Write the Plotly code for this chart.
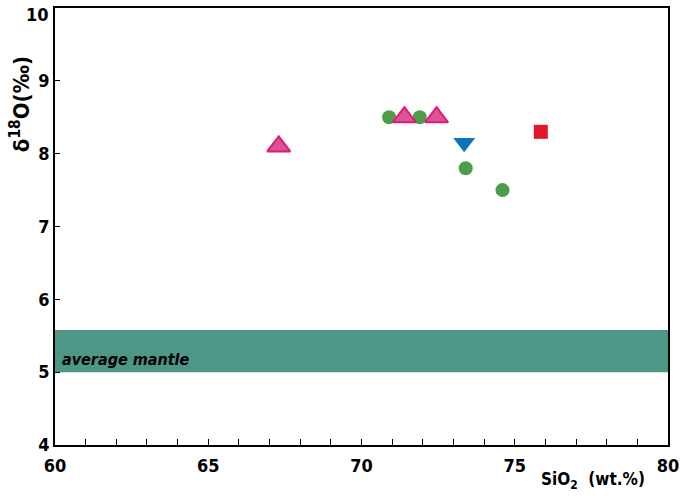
import plotly.graph_objects as go

# Data
circle_x = [70.9, 71.9, 73.4, 74.6]
circle_y = [8.5, 8.5, 7.8, 7.5]
tri_x = [67.3, 71.4, 72.45]
tri_y = [8.1, 8.5, 8.5]
invtri_x = [73.35]
invtri_y = [8.15]
square_x = [75.85]
square_y = [8.3]
mantle_band = [5.0, 5.58]
x_ticks = [60, 65, 70, 75, 80]
y_ticks = [4, 5, 6, 7, 8, 9]
y_top_label = 10

FONT = "DejaVu Sans Condensed, Liberation Sans, Arial, sans-serif"

fig = go.Figure()

fig.add_shape(type="rect", xref="x", yref="y", x0=60, x1=80,
              y0=mantle_band[0], y1=mantle_band[1],
              fillcolor="#4e9786", line=dict(width=0), layer="below")

fig.add_trace(go.Scatter(x=circle_x, y=circle_y, mode="markers",
                         marker=dict(symbol="circle", size=14, color="#4c9c48",
                                     line=dict(width=0))))
fig.add_trace(go.Scatter(x=tri_x, y=tri_y, mode="markers",
                         marker=dict(symbol="triangle-up", size=20, color="#d85596",
                                     line=dict(width=2, color="#e2187a"))))
fig.add_trace(go.Scatter(x=invtri_x, y=invtri_y, mode="markers",
                         marker=dict(symbol="triangle-down", size=19, color="#0b74bb",
                                     line=dict(width=0))))
fig.add_trace(go.Scatter(x=square_x, y=square_y, mode="markers",
                         marker=dict(symbol="square", size=14, color="#e3152a",
                                     line=dict(width=0))))

fig.add_annotation(x=60.15, y=5.02, xref="x", yref="y", text="<b><i>average mantle</i></b>",
                   showarrow=False, xanchor="left", yanchor="bottom",
                   font=dict(family=FONT, size=16, color="black"))

# top "10" label (would be clipped as a regular tick label)
fig.add_annotation(x=0, y=y_top_label, xref="paper", yref="y",
                   text=f"<b>{y_top_label}</b>", showarrow=False,
                   xanchor="right", yanchor="middle", xshift=-4, yshift=-6,
                   font=dict(family=FONT, size=18, color="black"))

fig.add_annotation(x=0.877, y=-0.082, xref="paper", yref="paper",
                   text="<b>SiO<sub>2</sub>  (wt.%)</b>", showarrow=False,
                   xanchor="center", yanchor="middle",
                   font=dict(family=FONT, size=17, color="black"))

fig.add_annotation(x=-0.057, y=0.78, xref="paper", yref="paper",
                   text="<b>δ<sup>18</sup>O(‰)</b>", showarrow=False, textangle=-90,
                   xanchor="center", yanchor="middle",
                   font=dict(family=FONT, size=22, color="black"))

fig.update_xaxes(range=[60, 80], tickvals=x_ticks,
                 ticktext=[f"<b>{v}</b>" for v in x_ticks],
                 ticks="inside", ticklen=6, tickcolor="black", tickwidth=1,
                 minor=dict(dtick=1, ticks="inside", ticklen=6, tickcolor="black"),
                 showline=True, linecolor="black", linewidth=1.5, mirror=True,
                 showgrid=False, zeroline=False, ticklabelstandoff=4,
                 tickfont=dict(family=FONT, size=18, color="black"))
fig.update_yaxes(range=[4, 10], tickvals=y_ticks,
                 ticktext=[f"<b>{v}</b>" for v in y_ticks],
                 ticks="inside", ticklen=5, tickcolor="black",
                 showline=True, linecolor="black", linewidth=1.5, mirror=True,
                 showgrid=False, zeroline=False,
                 tickfont=dict(family=FONT, size=18, color="black"))

fig.update_layout(width=685, height=500, showlegend=False,
                  margin=dict(l=55, r=14, t=6, b=55),
                  plot_bgcolor="white", paper_bgcolor="white")

fig.write_html("out.html", config={"displayModeBar": False},
               post_script="document.body.style.margin='0';")
